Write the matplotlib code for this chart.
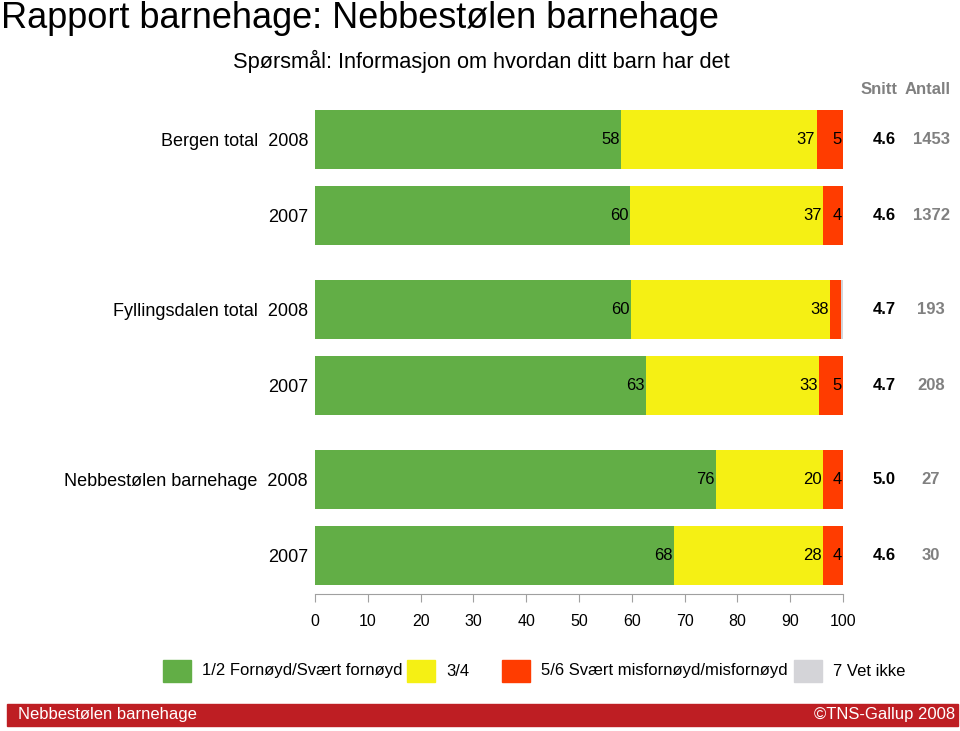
import matplotlib
matplotlib.use("Agg")
import matplotlib.pyplot as plt
from matplotlib.patches import Rectangle

plt.rcParams['font.family'] = ['Liberation Sans', 'DejaVu Sans']

# data
rows = ["Bergen total  2008", "2007", "Fyllingsdalen total  2008", "2007",
        "Nebbestølen barnehage  2008", "2007"]
fornoyd = [58.0, 59.7, 59.8, 62.7, 76.0, 68.0]
middels = [37.0, 36.6, 37.7, 32.7, 20.2, 28.2]
misfornoyd = [5.0, 3.7, 2.1, 4.6, 3.8, 3.8]
vet_ikke = [0.0, 0.0, 0.4, 0.0, 0.0, 0.0]
snitt = ["4.6", "4.6", "4.7", "4.7", "5.0", "4.6"]
antall = ["1453", "1372", "193", "208", "27", "30"]

legend_labels = ["1/2 Fornøyd/Svært fornøyd", "3/4",
                 "5/6 Svært misfornøyd/misfornøyd", "7 Vet ikke"]
colors = ["#62AE46", "#F5F014", "#FF3C00", "#D4D4D8"]
series = [fornoyd, middels, misfornoyd, vet_ikke]

W, H = 960, 731
fig = plt.figure(figsize=(W / 100, H / 100), dpi=100)

def fx(px):
    return px / W

def fy(py):
    return 1 - py / H

ax = fig.add_axes([fx(315), fy(594), fx(528), 494 / H])

# two rows per group, extra gap between groups
ypos = [g * 2.23 + r for g in range(3) for r in range(2)]

left = [0.0] * len(rows)
for vals, col in zip(series, colors):
    ax.barh(ypos, vals, left=left, height=0.776, color=col, edgecolor='none')
    for y, l, v in zip(ypos, left, vals):
        if round(v) >= 3:
            ax.annotate(f"{round(v)}", xy=(l + v, y), xytext=(-1, 0),
                        textcoords='offset points', ha='right', va='center',
                        fontsize=12, color='black')
    left = [a + b for a, b in zip(left, vals)]

ax.set_xlim(0, 100)
ax.set_ylim(5.96, -0.52)
ax.set_xticks(range(0, 101, 10))
ax.set_yticks(ypos, rows)
ax.tick_params(axis='y', length=0, pad=5, labelsize=13)
ax.tick_params(axis='x', length=6, color='#A0A0A0', pad=8.5, labelsize=11.5)
for s in ['left', 'top', 'right']:
    ax.spines[s].set_visible(False)
ax.spines['bottom'].set_color('#A0A0A0')

# Snitt / Antall columns
tr = ax.get_yaxis_transform()
for y, s, n in zip(ypos, snitt, antall):
    ax.text(1.0777, y, s, transform=tr, ha='center', va='center',
            fontsize=12, fontweight='bold', color='black')
    ax.text(1.1667, y, n, transform=tr, ha='center', va='center',
            fontsize=12, fontweight='bold', color='#808080')
fig.text(fx(879), fy(94), "Snitt", ha='center', va='baseline',
         fontsize=12, fontweight='bold', color='#808080')
fig.text(fx(928), fy(94), "Antall", ha='center', va='baseline',
         fontsize=12, fontweight='bold', color='#808080')

# titles
fig.text(fx(1), fy(28), "Rapport barnehage: Nebbestølen barnehage",
         ha='left', va='baseline', fontsize=26)
fig.text(fx(233), fy(68), "Spørsmål: Informasjon om hvordan ditt barn har det",
         ha='left', va='baseline', fontsize=15.7)

# legend
box_x = [163, 407, 502, 794]
for bx, lab, col in zip(box_x, legend_labels, colors):
    fig.patches.append(Rectangle((fx(bx), fy(682)), fx(28), 22 / H,
                                 transform=fig.transFigure, color=col))
    fig.text(fx(bx + 39), fy(671), lab, ha='left', va='center', fontsize=12)

# footer band
fig.patches.append(Rectangle((fx(7), fy(726)), fx(951), 22 / H,
                             transform=fig.transFigure, color='#BE1E23'))
fig.text(fx(18), fy(715), "Nebbestølen barnehage", ha='left', va='center',
         fontsize=12, color='white')
fig.text(fx(955), fy(715), "©TNS-Gallup 2008", ha='right', va='center',
         fontsize=12, color='white')

fig.savefig("out.png", dpi=100)
